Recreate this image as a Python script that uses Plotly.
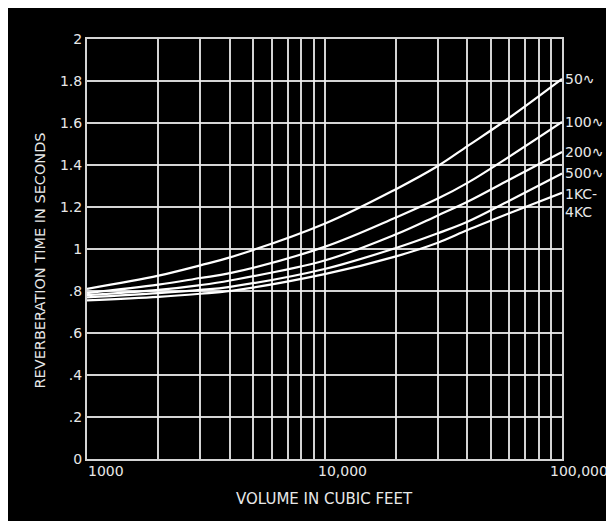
import math
import plotly.graph_objects as go

volume = [1000, 2000, 3000, 4000, 10000, 20000, 30000, 40000, 60000, 100000]
t_50 = [0.81, 0.873, 0.922, 0.96, 1.12, 1.285, 1.395, 1.49, 1.625, 1.81]
t_100 = [0.79, 0.83, 0.862, 0.885, 1.01, 1.15, 1.24, 1.315, 1.44, 1.605]
t_200 = [0.78, 0.805, 0.828, 0.85, 0.945, 1.07, 1.16, 1.225, 1.33, 1.462]
t_500 = [0.77, 0.79, 0.805, 0.82, 0.905, 1.005, 1.075, 1.13, 1.23, 1.36]
t_1k4k = [0.755, 0.772, 0.787, 0.80, 0.88, 0.965, 1.03, 1.09, 1.17, 1.268]

series = [t_50, t_100, t_200, t_500, t_1k4k]
series_labels = ["50∿", "100∿", "200∿", "500∿", "1KC-<br>4KC"]

y_ticks = [0, 0.2, 0.4, 0.6, 0.8, 1.0, 1.2, 1.4, 1.6, 1.8, 2.0]
y_tick_text = ["0", ".2", ".4", ".6", ".8", "1", "1.2", "1.4", "1.6", "1.8", "2"]
x_tick_vals = [1000, 10000, 100000]
x_tick_text = ["1000", "10,000", "100,000"]

FONT = "DejaVu Sans"
TXT = "#e8e8e8"
fig = go.Figure()
for vals in series:
    fig.add_trace(go.Scatter(x=volume, y=vals, mode="lines",
                             line=dict(color="white", width=2.2, shape="spline", smoothing=1.0),
                             showlegend=False, hoverinfo="skip"))

grid = "rgba(235,235,235,0.9)"
fig.update_xaxes(type="log", range=[3, 5], showgrid=True, gridcolor=grid, gridwidth=1.5,
                 dtick="D1", showticklabels=False, ticks="", showline=True, linecolor=grid,
                 linewidth=2, mirror=True, zeroline=False)
fig.update_yaxes(range=[0, 2], tickvals=y_ticks, ticktext=y_tick_text, showgrid=True,
                 gridcolor=grid, gridwidth=1.5, ticks="", showline=True, linecolor=grid,
                 linewidth=2, mirror=True, zeroline=False,
                 tickfont=dict(family=FONT, size=14, color=TXT))

annotations = []
shifts = [-1, -9, -14]
for v, t, s in zip(x_tick_vals, x_tick_text, shifts):
    annotations.append(dict(x=math.log10(v), xref="x", y=0, yref="y", text=t,
                            showarrow=False, xanchor="left", yanchor="top", xshift=s,
                            yshift=-2, font=dict(family=FONT, size=14, color=TXT)))
label_y = [1.81, 1.605, 1.462, 1.36, 1.22]
for t, yv in zip(series_labels, label_y):
    annotations.append(dict(x=1, xref="paper", y=yv, yref="y", text=t, showarrow=False,
                            xanchor="left", yanchor="middle", xshift=1, align="left",
                            font=dict(family=FONT, size=14, color=TXT)))
annotations.append(dict(x=0.5, xref="paper", y=-0.068, yref="paper", yanchor="top",
                        text="VOLUME IN CUBIC FEET", showarrow=False,
                        font=dict(family=FONT, size=15, color=TXT)))
annotations.append(dict(x=-0.1, xref="paper", y=0.5, yref="paper", xanchor="center",
                        yshift=-12, text="REVERBERATION TIME IN SECONDS", showarrow=False,
                        textangle=-90, font=dict(family=FONT, size=14.5, color=TXT)))

fig.update_layout(width=606, height=513, paper_bgcolor="black", plot_bgcolor="black",
                  margin=dict(l=79, r=52, t=31, b=62), annotations=annotations,
                  font=dict(family=FONT, color=TXT))
fig.write_html("out.html")
